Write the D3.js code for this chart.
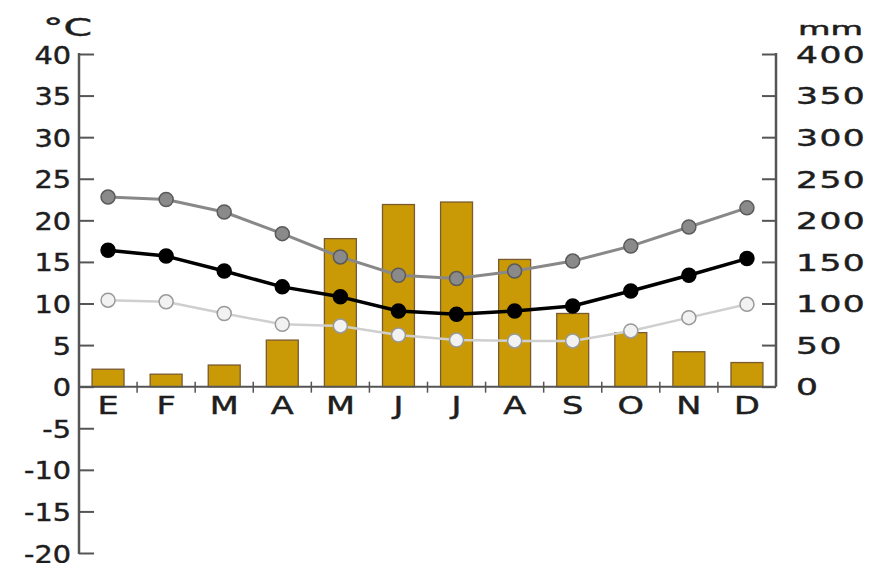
<!DOCTYPE html>
<html>
<head>
<meta charset="utf-8">
<script src="https://cdn.jsdelivr.net/npm/d3@7"></script>
<style>
  html, body { margin: 0; padding: 0; background: #fff; }
  svg { display: block; }
  text { font-family: "DejaVu Sans", Verdana, sans-serif; fill: #1e1e1e; stroke: #1e1e1e; stroke-width: 0.45px; }
</style>
</head>
<body>
<svg id="chart" width="874" height="563"></svg>
<script>
// Climate chart: monthly precipitation (bars, mm) and temperatures (lines, °C)
const months = ["E", "F", "M", "A", "M", "J", "J", "A", "S", "O", "N", "D"];
const precipitation = [21, 15, 26, 56, 178, 219, 222, 153, 88, 65, 42, 29];
const tempMax = [22.8, 22.5, 21.0, 18.4, 15.6, 13.4, 13.0, 13.9, 15.1, 16.9, 19.2, 21.5];
const tempMean = [16.4, 15.7, 13.9, 12.0, 10.8, 9.1, 8.7, 9.1, 9.7, 11.5, 13.4, 15.4];
const tempMin = [10.4, 10.2, 8.8, 7.5, 7.3, 6.2, 5.6, 5.5, 5.5, 6.7, 8.3, 9.9];
const tempTicks = [-20, -15, -10, -5, 0, 5, 10, 15, 20, 25, 30, 35, 40];
const precTicks = [0, 50, 100, 150, 200, 250, 300, 350, 400];

const svg = d3.select("#chart");
const plotLeft = 79, plotRight = 776, plotTop = 54, plotBottom = 553;

const x = d3.scaleBand()
  .domain(d3.range(months.length))
  .range([plotLeft, plotRight])
  .paddingInner(0.45)
  .paddingOuter(0.225);
const yT = d3.scaleLinear().domain([-20, 40]).range([plotBottom, plotTop]);
const yP = d3.scaleLinear().domain([0, 400]).range([yT(0), plotTop]);
const cx = i => x(i) + x.bandwidth() / 2;

const axisColor = "#555";

// precipitation bars
svg.append("g").selectAll("rect")
  .data(precipitation)
  .join("rect")
  .attr("x", (d, i) => x(i))
  .attr("width", x.bandwidth())
  .attr("y", d => yP(d))
  .attr("height", d => yP(0) - yP(d))
  .attr("fill", "#c99a06")
  .attr("stroke", "#7a5a30")
  .attr("stroke-width", 1.3);

// left temperature axis
const gL = svg.append("g")
  .attr("transform", `translate(${plotLeft},0)`)
  .call(d3.axisRight(yT).tickValues(tempTicks).tickSize(15).tickFormat(d3.format("d")));
gL.select(".domain").remove();
gL.selectAll(".tick line").attr("stroke", axisColor).attr("stroke-width", 2);
gL.selectAll(".tick text")
  .attr("text-anchor", "end")
  .attr("x", 0)
  .attr("dy", "0.36em")
  .attr("transform", "translate(-8,0) scale(1.15,1)")
  .style("font-size", "25px")
  .text(d => d < 0 ? "-" + Math.abs(d) : d);
gL.append("line").attr("y1", plotTop - 1).attr("y2", plotBottom + 1)
  .attr("stroke", axisColor).attr("stroke-width", 2.5);

// right precipitation axis
const gR = svg.append("g")
  .attr("transform", `translate(${plotRight},0)`)
  .call(d3.axisLeft(yP).tickValues(precTicks).tickSize(14).tickFormat(d3.format("d")));
gR.select(".domain").remove();
gR.selectAll(".tick line").attr("stroke", axisColor).attr("stroke-width", 2);
gR.selectAll(".tick text")
  .attr("text-anchor", "start")
  .attr("x", 0)
  .attr("dy", "0.36em")
  .attr("transform", "translate(20,0) scale(1.5,1)")
  .style("font-size", "23px")
  .style("letter-spacing", "1px");
gR.append("line").attr("y1", plotTop - 1).attr("y2", yP(0))
  .attr("stroke", axisColor).attr("stroke-width", 2.5);

// month axis along 0 °C
const gX = svg.append("g")
  .attr("transform", `translate(0,${yT(0)})`)
  .call(d3.axisBottom(x).tickSize(0).tickFormat(i => months[i]));
gX.select(".domain").remove();
gX.selectAll(".tick").each(function (i) {
  d3.select(this).attr("transform", `translate(${cx(i)},0)`);
  d3.select(this).select("text")
    .attr("x", 0)
    .attr("y", 10)
    .attr("dy", "0.71em")
    .attr("transform", "scale(1.4,1)")
    .style("font-size", "24px");
});
gX.append("line").attr("x1", plotLeft).attr("x2", plotRight)
  .attr("stroke", axisColor).attr("stroke-width", 2);
gX.selectAll(".sep")
  .data(d3.range(1, months.length))
  .join("line")
  .attr("class", "sep")
  .attr("x1", i => x(i) - x.step() * x.paddingInner() / 2)
  .attr("x2", i => x(i) - x.step() * x.paddingInner() / 2)
  .attr("y1", -5).attr("y2", 6)
  .attr("stroke", axisColor).attr("stroke-width", 1.5);

// unit labels, stretched to a fixed width
svg.append("text")
  .attr("x", 43).attr("y", 36)
  .attr("textLength", 49).attr("lengthAdjust", "spacingAndGlyphs")
  .style("font-size", "24px").text("°C");
svg.append("text")
  .attr("x", 798).attr("y", 35)
  .attr("textLength", 65).attr("lengthAdjust", "spacingAndGlyphs")
  .style("font-size", "18px").text("mm");

// temperature lines
const series = [
  { values: tempMin, line: "#cfcfcf", width: 2.5, fill: "#f2f2f2", stroke: "#999" },
  { values: tempMax, line: "#888", width: 3, fill: "#8a8a8a", stroke: "#5a5a5a" },
  { values: tempMean, line: "#000", width: 3.5, fill: "#000", stroke: "#000" }
];
const lineGen = d3.line().x((d, i) => cx(i)).y(d => yT(d));

series.forEach(s => {
  const g = svg.append("g");
  g.append("path")
    .datum(s.values)
    .attr("d", lineGen)
    .attr("fill", "none")
    .attr("stroke", s.line)
    .attr("stroke-width", s.width)
    .attr("stroke-linejoin", "round");
  g.selectAll("circle")
    .data(s.values)
    .join("circle")
    .attr("cx", (d, i) => cx(i))
    .attr("cy", d => yT(d))
    .attr("r", 7)
    .attr("fill", s.fill)
    .attr("stroke", s.stroke)
    .attr("stroke-width", 1.5);
});
</script>
</body>
</html>
